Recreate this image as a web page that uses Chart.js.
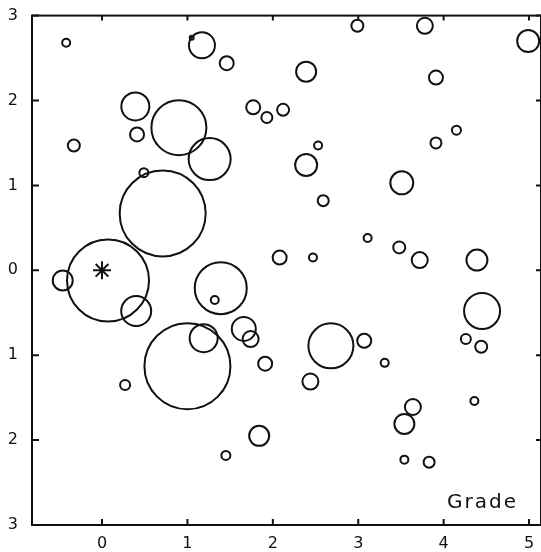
<!DOCTYPE html>
<html>
<head>
<meta charset="utf-8">
<script src="https://cdn.jsdelivr.net/npm/chart.js@4"></script>
<style>
  html, body { margin: 0; padding: 0; background: #fff; }
  canvas { display: block; }
</style>
</head>
<body>
<canvas id="chart" width="541" height="552"></canvas>
<script>
// bubble centres (grade, score) and drawn radius
const xs = [-0.42, 1.17, 1.46, 0.39, 0.90, 1.26, 0.41, -0.33, 0.49, 0.71,
  1.77, 1.93, 2.99, 3.78, 4.99, 2.39, 3.91, 2.12, 4.15, 3.91,
  2.53, 2.39, 3.51, 2.59, 3.11, 3.48, 2.08, 2.47, 3.72, 4.39,
  -0.46, 0.07, 0.40, 1.39, 1.32, 1.00, 1.19, 1.66, 1.74, 1.91,
  0.27, 1.84, 1.45, 2.68, 3.07, 3.31, 2.44, 4.45, 4.26, 4.44,
  4.36, 3.64, 3.54, 3.54, 3.83, 1.05];
const ys = [2.68, 2.65, 2.44, 1.93, 1.68, 1.31, 1.60, 1.47, 1.15, 0.67,
  1.92, 1.80, 2.88, 2.88, 2.70, 2.34, 2.27, 1.89, 1.65, 1.50,
  1.47, 1.24, 1.03, 0.82, 0.38, 0.27, 0.15, 0.15, 0.12, 0.12,
  -0.12, -0.12, -0.48, -0.21, -0.35, -1.13, -0.80, -0.69, -0.81, -1.10,
  -1.35, -1.95, -2.18, -0.89, -0.83, -1.09, -1.31, -0.48, -0.81, -0.90,
  -1.54, -1.61, -1.81, -2.23, -2.26, 2.74];
const rs = [4, 13, 7, 14, 27.5, 21, 7, 6, 4.5, 43,
  7, 5.5, 6, 8, 11, 10, 7, 6, 4.5, 5.5,
  4, 11, 11.5, 5.5, 4, 6, 7, 4, 8, 10.5,
  10, 41, 15, 26, 4, 43, 14, 12, 8, 7,
  5, 10, 4.5, 22.5, 7, 4, 8, 18, 5, 6,
  4, 8, 10, 4, 5.5, 2];

const marker = [{ x: 0, y: 0 }];
const xTicks = [0, 1, 2, 3, 4, 5];
const yTicks = [-3, -2, -1, 0, 1, 2, 3];
const axisLabel = "Grade";

const ink = "#111";

const framePlugin = {
  id: "frame",
  afterDatasetsDraw(chart) {
    const { ctx, chartArea: a, scales: { x, y } } = chart;
    ctx.save();
    ctx.strokeStyle = ink;
    ctx.lineWidth = 2;
    ctx.strokeRect(a.left, a.top, a.right - a.left, a.bottom - a.top);
    ctx.beginPath();
    xTicks.forEach(v => {
      const px = x.getPixelForValue(v);
      ctx.moveTo(px, a.bottom); ctx.lineTo(px, a.bottom - 6);
      ctx.moveTo(px, a.top); ctx.lineTo(px, a.top + 5);
    });
    yTicks.forEach(v => {
      const py = y.getPixelForValue(v);
      ctx.moveTo(a.left, py); ctx.lineTo(a.left + 7, py);
      ctx.moveTo(a.right, py); ctx.lineTo(a.right - 5, py);
    });
    ctx.stroke();
    ctx.fillStyle = ink;
    ctx.font = "20px 'DejaVu Sans'";
    ctx.letterSpacing = "2px";
    ctx.textAlign = "left";
    ctx.textBaseline = "alphabetic";
    ctx.fillText(axisLabel, x.getPixelForValue(4.04), y.getPixelForValue(-2.80));
    ctx.letterSpacing = "0px";
    ctx.restore();
  }
};

new Chart(document.getElementById("chart"), {
  type: "bubble",
  data: {
    datasets: [
      {
        data: xs.map((v, i) => ({ x: v, y: ys[i], r: rs[i] })),
        backgroundColor: "rgba(0,0,0,0)",
        borderColor: ink,
        borderWidth: 2,
        clip: false
      },
      {
        type: "scatter",
        data: marker,
        pointStyle: "star",
        pointRadius: 9,
        borderColor: ink,
        borderWidth: 2,
        backgroundColor: "rgba(0,0,0,0)"
      }
    ]
  },
  plugins: [framePlugin],
  options: {
    responsive: false,
    animation: false,
    events: [],
    layout: { autoPadding: false, padding: { top: 4, right: 0, left: 0, bottom: 0 } },
    plugins: { legend: { display: false }, tooltip: { enabled: false } },
    scales: {
      x: {
        type: "linear",
        min: -0.82,
        max: 5.14,
        afterBuildTicks: s => { s.ticks = xTicks.map(v => ({ value: v })); },
        afterFit: s => { s.height = 27; },
        grid: { display: false },
        border: { display: false },
        ticks: { color: ink, padding: 1, font: { family: "DejaVu Sans", size: 16 } }
      },
      y: {
        type: "linear",
        min: -3,
        max: 3,
        afterBuildTicks: s => { s.ticks = yTicks.map(v => ({ value: v })); },
        afterFit: s => { s.width = 32; },
        grid: { display: false },
        border: { display: false },
        ticks: {
          color: ink,
          padding: 6,
          font: { family: "DejaVu Sans", size: 16 },
          callback: v => Math.abs(v)
        }
      }
    }
  }
});
</script>
</body>
</html>
